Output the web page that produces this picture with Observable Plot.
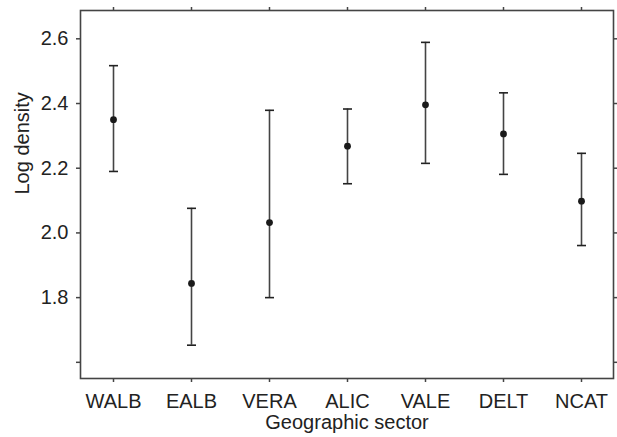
<!DOCTYPE html>
<html>
<head>
<meta charset="utf-8">
<script src="https://cdn.jsdelivr.net/npm/d3@7"></script>
<script src="https://cdn.jsdelivr.net/npm/@observablehq/plot@0.6"></script>
<style>
  html, body { margin: 0; padding: 0; background: #fff; }
  #chart svg { font-family: "Liberation Sans", Arial, Helvetica, sans-serif; }
</style>
</head>
<body>
<div id="chart"></div>
<script>
const sectors = ["WALB", "EALB", "VERA", "ALIC", "VALE", "DELT", "NCAT"];
const means   = [2.350, 1.844, 2.032, 2.268, 2.396, 2.306, 2.098];
const lower   = [2.190, 1.653, 1.800, 2.152, 2.215, 2.181, 1.961];
const upper   = [2.517, 2.076, 2.379, 2.383, 2.589, 2.433, 2.246];
const yTicks  = [1.6, 1.8, 2.0, 2.2, 2.4, 2.6];
const yTickLabels = ["", "1.8", "2.0", "2.2", "2.4", "2.6"];
const xTitle = "Geographic sector";
const yTitle = "Log density";

const data = sectors.map((s, i) => ({sector: s, mean: means[i], lo: lower[i], hi: upper[i]}));

const cap = {
  draw(ctx, size) {
    const r = Math.sqrt(size / Math.PI);
    ctx.moveTo(-r, 0);
    ctx.lineTo(r, 0);
  }
};

const ink = "#444";
const fontSize = 20;

const chart = Plot.plot({
  width: 617,
  height: 437,
  marginLeft: 80,
  marginRight: 4,
  marginTop: 10,
  marginBottom: 59,
  style: {fontSize: fontSize + "px", color: "#222", background: "#fff", overflow: "visible"},
  x: {type: "point", domain: sectors, padding: 0.415},
  y: {domain: [1.55, 2.6875]},
  marks: [
    Plot.axisX({anchor: "bottom", tickSize: 4, tickPadding: 11, stroke: ink, strokeWidth: 1.5, label: null, fontSize: fontSize}),
    Plot.axisX({anchor: "top", tickSize: 4, tickFormat: () => "", stroke: ink, strokeWidth: 1.5, label: null}),
    Plot.axisY({anchor: "left", ticks: yTicks, tickSize: 4, tickPadding: 8, tickFormat: (d) => yTickLabels[yTicks.indexOf(d)], stroke: ink, strokeWidth: 1.5, label: null, fontSize: fontSize}),
    Plot.axisY({anchor: "right", ticks: yTicks, tickSize: 4, tickFormat: () => "", stroke: ink, strokeWidth: 1.5, label: null}),
    Plot.frame({stroke: ink, strokeWidth: 1.6}),
    Plot.ruleX(data, {x: "sector", y1: "lo", y2: "hi", stroke: ink, strokeWidth: 1.6}),
    Plot.dot(data, {x: "sector", y: "hi", symbol: cap, r: 4.5, stroke: "#222", strokeWidth: 1.6, fill: "none"}),
    Plot.dot(data, {x: "sector", y: "lo", symbol: cap, r: 4.5, stroke: "#222", strokeWidth: 1.6, fill: "none"}),
    Plot.dot(data, {x: "sector", y: "mean", r: 3.4, fill: "#1a1a1a", stroke: "none"}),
    Plot.text([xTitle], {frameAnchor: "bottom", lineAnchor: "middle", dy: 44, fontSize: fontSize, fill: "#222"}),
    Plot.text([yTitle], {frameAnchor: "left", lineAnchor: "middle", dx: -58, rotate: -90, fontSize: fontSize, fill: "#222"})
  ]
});
document.getElementById("chart").appendChild(chart);
</script>
</body>
</html>
